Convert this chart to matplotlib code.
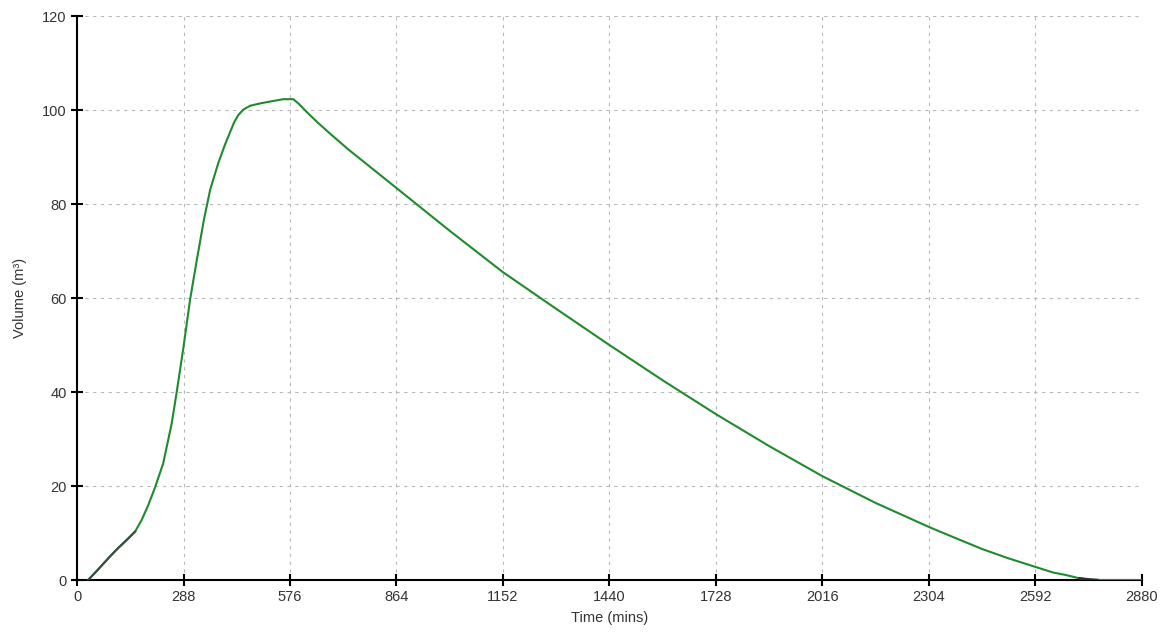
import matplotlib
matplotlib.use("Agg")
import matplotlib.pyplot as plt
import numpy as np

# Storage volume over time
time_mins = [30, 60, 89, 110, 134, 157, 175, 193, 211, 233, 256, 269, 288, 306, 324, 343, 360,
             382, 400, 414, 425, 436, 450, 468, 495, 522, 558, 585, 600, 621, 650, 684, 734,
             864, 1008, 1152, 1296, 1440, 1584, 1728, 1872, 2016, 2160, 2304, 2334, 2448,
             2520, 2592, 2640, 2675, 2712, 2740, 2760, 2880]
volume_m3 = [0.0, 2.5, 5.0, 6.7, 8.5, 10.3, 12.8, 16.0, 19.7, 24.8, 33.3, 39.7, 49.6, 59.8,
             68.1, 76.6, 83.0, 88.7, 92.6, 95.3, 97.4, 98.9, 100.1, 100.9, 101.4, 101.8,
             102.3, 102.3, 101.3, 99.6, 97.4, 95.0, 91.6, 83.4, 74.3, 65.5, 57.7, 50.0, 42.5,
             35.3, 28.5, 22.1, 16.4, 11.3, 10.3, 6.6, 4.6, 2.8, 1.6, 1.06, 0.35, 0.1, 0.0, 0.0]

x_ticks = [0, 288, 576, 864, 1152, 1440, 1728, 2016, 2304, 2592, 2880]
y_ticks = [0, 20, 40, 60, 80, 100, 120]

plt.rcParams['font.family'] = ['Liberation Sans', 'DejaVu Sans']

fig = plt.figure(figsize=(11.71, 6.35), dpi=100)
ax = fig.add_axes([0.0658, 0.0866, 0.9092, 0.8882])

t = np.array(time_mins, dtype=float)
v = np.array(volume_m3, dtype=float)

# main series in green
ax.plot(t, v, color='#1f8a2e', linewidth=1.5, zorder=3, solid_joinstyle='round')

# darker overlay where the inflow series shows through
head = t <= 157
tail = (t >= 2700) & (t <= 2760)
ax.plot(t[head], v[head], color='#3f4a42', linewidth=1.5, zorder=4)
ax.plot(t[tail], v[tail], color='#2a2f2b', linewidth=1.8, zorder=4)

ax.set_xlim(0, 2880)
ax.set_ylim(0, 120)
ax.set_xticks(x_ticks)
ax.set_yticks(y_ticks)

ax.grid(True, color='#b8b8b8', linestyle=(0, (3, 4)), linewidth=0.8)
ax.set_axisbelow(True)

for side in ('top', 'right'):
    ax.spines[side].set_visible(False)
for side in ('left', 'bottom'):
    ax.spines[side].set_color('black')
    ax.spines[side].set_linewidth(1.5)

ax.tick_params(axis='both', direction='inout', length=9, width=1.5,
               labelsize=10.5, labelcolor='#333333', color='black', pad=3)

ax.set_xlabel('Time (mins)', fontsize=10.5, color='#333333', labelpad=5)
ax.set_ylabel('Volume (m³)', fontsize=10.5, color='#333333', labelpad=11)

fig.savefig('out.png', dpi=100, facecolor='white')
